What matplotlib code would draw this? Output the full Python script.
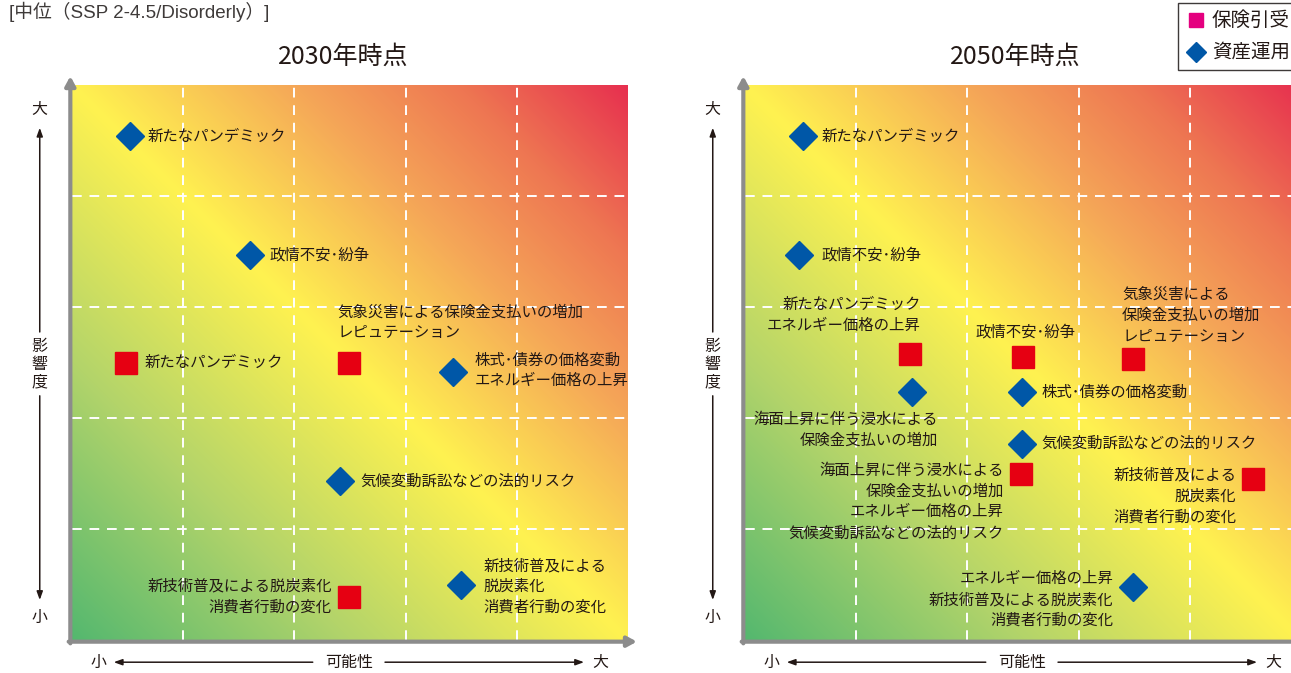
import numpy as np
import matplotlib.pyplot as plt
from matplotlib.colors import LinearSegmentedColormap
from matplotlib.lines import Line2D
from matplotlib.patches import Rectangle

plt.rcParams['font.family'] = ['Noto Sans CJK JP', 'DejaVu Sans']

# 2030年時点 (可能性, 影響度)
x_2030 = [0.52, 1.60, 0.49, 2.49, 3.43, 2.41, 2.49, 3.50]
y_2030 = [4.54, 3.47, 2.50, 2.50, 2.41, 1.43, 0.39, 0.50]
kind_2030 = ['asset', 'asset', 'ins', 'ins', 'asset', 'asset', 'ins', 'asset']
labels_2030 = [
    '新たなパンデミック',
    '政情不安･紛争',
    '新たなパンデミック',
    '気象災害による保険金支払いの増加\nレピュテーション',
    '株式･債券の価格変動\nエネルギー価格の上昇',
    '気候変動訴訟などの法的リスク',
    '新技術普及による脱炭素化\n消費者行動の変化',
    '新技術普及による\n脱炭素化\n消費者行動の変化',
]

# 2050年時点
x_2050 = [0.52, 0.49, 1.48, 1.50, 2.50, 3.49, 2.49, 2.49, 2.48, 4.57, 3.49]
y_2050 = [4.54, 3.47, 2.58, 2.23, 2.55, 2.53, 2.23, 1.77, 1.50, 1.45, 0.48]
kind_2050 = ['asset', 'asset', 'ins', 'asset', 'ins', 'ins', 'asset', 'asset',
             'ins', 'ins', 'asset']
labels_2050 = [
    '新たなパンデミック',
    '政情不安･紛争',
    '新たなパンデミック\nエネルギー価格の上昇',
    '海面上昇に伴う浸水による\n保険金支払いの増加',
    '政情不安･紛争',
    '気象災害による\n保険金支払いの増加\nレピュテーション',
    '株式･債券の価格変動',
    '気候変動訴訟などの法的リスク',
    '海面上昇に伴う浸水による\n保険金支払いの増加\nエネルギー価格の上昇\n気候変動訴訟などの法的リスク',
    '新技術普及による\n脱炭素化\n消費者行動の変化',
    'エネルギー価格の上昇\n新技術普及による脱炭素化\n消費者行動の変化',
]

legend_labels = ['保険引受', '資産運用']

# label placement: (dx px, dy px, ha)
place_2030 = [(18, 0, 'left'), (20, 0, 'left'), (18, 0, 'left'), (-11, 40, 'left'),
              (21, 2, 'left'), (20, 0, 'left'), (-17, 0, 'right'), (22, -2, 'left')]
place_2050 = [(19, 0, 'left'), (22, 0, 'left'), (11, 39, 'right'), (26, -37, 'right'),
              (2, 25, 'center'), (-11, 44, 'left'), (20, 0, 'left'), (20, 0, 'left'),
              (-17, -28, 'right'), (-17, -17, 'right'), (-20, -13, 'right')]

TXT = '#231815'
RED = '#e60012'
BLUE = '#0057a7'
AXGRAY = '#8c8c8c'

cmap = LinearSegmentedColormap.from_list('risk', [
    (0.0, '#55b86f'), (0.25, '#b3d46a'), (0.5, '#fff250'),
    (0.7, '#f5a758'), (0.85, '#ee7652'), (1.0, '#e7304f')])
gx, gy = np.meshgrid(np.linspace(0, 1, 300), np.linspace(0, 1, 300))
grad = (gx + gy) / 2

W, H = 1291, 673
fig = plt.figure(figsize=(W / 100, H / 100), dpi=100)


def draw_panel(left, title, xs, ys, kinds, labels, place):
    ax = fig.add_axes([left / W, (H - 640) / H, 556 / W, 555 / H])
    ax.imshow(grad, extent=[0, 5, 0, 5], origin='lower', cmap=cmap, vmin=0, vmax=1,
              aspect='auto', interpolation='bicubic', zorder=0)
    ax.set_xlim(0, 5)
    ax.set_ylim(0, 5)
    for v in range(1, 5):
        ax.axvline(v, color='white', lw=1.4, ls=(0, (5, 4)), zorder=1)
        ax.axhline(v, color='white', lw=1.4, ls=(0, (5, 4)), zorder=1)
    ax.set_xticks([])
    ax.set_yticks([])
    for s in ax.spines.values():
        s.set_visible(False)

    # gray axis arrows
    ap = dict(arrowstyle='-|>,head_length=0.55,head_width=0.3', lw=3, color=AXGRAY,
              shrinkA=0, shrinkB=0)
    ax.annotate('', xy=(-0.003, 1.016), xytext=(-0.003, -0.006), xycoords='axes fraction',
                arrowprops=ap, annotation_clip=False)
    ax.annotate('', xy=(1.016, -0.003), xytext=(-0.006, -0.003), xycoords='axes fraction',
                arrowprops=ap, annotation_clip=False)

    for x, y, k, lab, (dx, dy, ha) in zip(xs, ys, kinds, labels, place):
        if k == 'ins':
            ax.plot(x, y, marker='s', ms=15.5, color=RED, ls='none', zorder=3, clip_on=False)
        else:
            ax.plot(x, y, marker='D', ms=14, color=BLUE, ls='none', zorder=3, clip_on=False)
        ax.annotate(lab, (x, y), xytext=(dx, dy), textcoords='offset pixels',
                    ha=ha, va='center', multialignment=ha, fontsize=11.1, color=TXT,
                    linespacing=1.3, zorder=4, annotation_clip=False)

    ax.text(0.487, 1.05, title, transform=ax.transAxes, ha='center', va='center',
            fontsize=18, color=TXT)

    # 影響度 (vertical)
    tk = dict(transform=ax.transAxes, ha='center', va='center', fontsize=11.5, color=TXT,
              clip_on=False)
    ax.text(-0.058, 0.955, '大', **tk)
    ax.text(-0.058, 0.04, '小', **tk)
    ax.text(-0.058, 0.497, '影\n響\n度', linespacing=1.05, **tk)
    bp = dict(arrowstyle='-|>,head_length=0.5,head_width=0.18', lw=1.1, color=TXT,
              shrinkA=0, shrinkB=0)
    ax.annotate('', xy=(-0.058, 0.923), xytext=(-0.058, 0.555), xycoords='axes fraction',
                arrowprops=bp, annotation_clip=False)
    ax.annotate('', xy=(-0.058, 0.072), xytext=(-0.058, 0.44), xycoords='axes fraction',
                arrowprops=bp, annotation_clip=False)
    # 可能性
    ax.text(0.047, -0.04, '小', **tk)
    ax.text(0.95, -0.04, '大', **tk)
    ax.text(0.498, -0.04, '可能性', **tk)
    ax.annotate('', xy=(0.075, -0.04), xytext=(0.433, -0.04), xycoords='axes fraction',
                arrowprops=bp, annotation_clip=False)
    ax.annotate('', xy=(0.921, -0.04), xytext=(0.563, -0.04), xycoords='axes fraction',
                arrowprops=bp, annotation_clip=False)
    return ax


draw_panel(72, '2030年時点', x_2030, y_2030, kind_2030, labels_2030, place_2030)
draw_panel(745, '2050年時点', x_2050, y_2050, kind_2050, labels_2050, place_2050)

fig.text(9 / W, 1 - 12 / H, '[中位（SSP 2-4.5/Disorderly）]', ha='left', va='center',
         fontsize=13.5, color='#3e3a39', family=['Liberation Sans', 'Noto Sans CJK JP'])

# legend (runs off the right edge)
fig.patches.append(Rectangle((1178 / W, 1 - 70 / H), 140 / W, 67 / H, transform=fig.transFigure,
                             facecolor='white', edgecolor='#3e3a39', lw=1.0))
fig.add_artist(Line2D([1196 / W], [1 - 20 / H], transform=fig.transFigure, marker='s',
                      ms=10.5, color='#e4007f', ls='none'))
fig.add_artist(Line2D([1196 / W], [1 - 52 / H], transform=fig.transFigure, marker='D',
                      ms=10, color=BLUE, ls='none'))
fig.text(1212 / W, 1 - 20 / H, legend_labels[0], ha='left', va='center', fontsize=14, color=TXT)
fig.text(1212 / W, 1 - 52 / H, legend_labels[1], ha='left', va='center', fontsize=14, color=TXT)

fig.savefig('out.png', dpi=100)
